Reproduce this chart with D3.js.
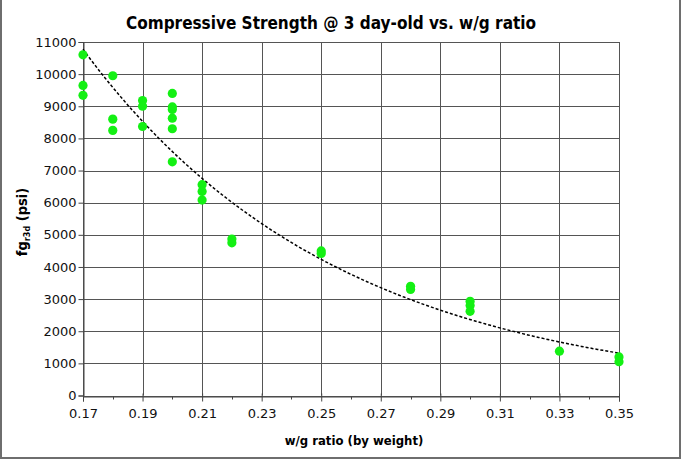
<!DOCTYPE html>
<html>
<head>
<meta charset="utf-8">
<script src="https://cdn.jsdelivr.net/npm/d3@7"></script>
<style>
  body { margin: 0; background: #fff; }
  svg { display: block; }
  text { font-family: "DejaVu Sans", sans-serif; }
</style>
</head>
<body>
<svg id="chart" width="682" height="460"></svg>
<script>
// ---- data ----
const ratio = [0.17,0.17,0.17, 0.18,0.18,0.18, 0.19,0.19,0.19, 0.20,0.20,0.20,0.20,0.20,0.20,
               0.21,0.21,0.21, 0.22,0.22, 0.25,0.25, 0.28,0.28, 0.30,0.30,0.30, 0.33, 0.35,0.35];
const strength = [10600,9650,9340, 9950,8600,8250, 9180,9000,8370, 9400,8980,8900,8630,8300,7270,
                  6560,6350,6080, 4870,4750, 4500,4420, 3400,3300, 2930,2800,2620, 1380, 1200,1050];
const xTicks = [0.17,0.19,0.21,0.23,0.25,0.27,0.29,0.31,0.33,0.35];
const xMinor = [0.18,0.20,0.22,0.24,0.26,0.28,0.30,0.32,0.34];
const yTicks = [0,1000,2000,3000,4000,5000,6000,7000,8000,9000,10000,11000];
const titleText = "Compressive Strength @ 3 day-old vs. w/g ratio";
const xTitle = "w/g ratio (by weight)";

// ---- layout ----
const svg = d3.select("#chart");
const L = 83, R = 619, T = 42, B = 395.5;
const x = d3.scaleLinear().domain([0.17, 0.35]).range([L, R]);
const y = d3.scaleLinear().domain([0, 11000]).range([B, T]);

// outer frame
svg.append("rect").attr("x", 1).attr("y", -2).attr("width", 679).attr("height", 460)
  .attr("fill", "none").attr("stroke", "#6e6e6e").attr("stroke-width", 2);

// gridlines
const grid = svg.append("g").attr("stroke", "#555").attr("stroke-width", 1);
yTicks.forEach(v => grid.append("line").attr("x1", L).attr("x2", R)
  .attr("y1", Math.round(y(v)) + 0.5).attr("y2", Math.round(y(v)) + 0.5));
xTicks.forEach(v => grid.append("line").attr("y1", T).attr("y2", B)
  .attr("x1", Math.round(x(v)) + 0.5).attr("x2", Math.round(x(v)) + 0.5));

// axes
const xAxis = d3.axisBottom(x).tickValues(xTicks).tickSize(5).tickFormat(d3.format(".2f"));
const gx = svg.append("g").attr("transform", `translate(0,${Math.round(B)+0.5})`).call(xAxis);
gx.select(".domain").attr("stroke", "#444");
gx.selectAll(".tick line").attr("stroke", "#444").attr("y1", -3);
gx.selectAll(".tick text").attr("font-size", 13).attr("dy", "1.0em").attr("fill", "#111");
gx.selectAll(".minor").data(xMinor).enter().append("line")
  .attr("x1", d => Math.round(x(d)) + 0.5).attr("x2", d => Math.round(x(d)) + 0.5)
  .attr("y1", 0).attr("y2", 3).attr("stroke", "#444");

const yAxis = d3.axisLeft(y).tickValues(yTicks).tickSize(5).tickFormat(d3.format("d"));
const gy = svg.append("g").attr("transform", `translate(${Math.round(L)+0.5},0)`).call(yAxis);
gy.select(".domain").attr("stroke", "#444");
gy.selectAll(".tick line").attr("stroke", "#444");
gy.selectAll(".tick text").attr("font-size", 13).attr("x", -7).attr("fill", "#111");

// exponential trendline fitted from the data (least squares on ln y)
const lx = ratio, ly = strength.map(Math.log);
const mx = d3.mean(lx), my = d3.mean(ly);
const b = d3.sum(lx.map((v, i) => (v - mx) * (ly[i] - my))) / d3.sum(lx.map(v => (v - mx) ** 2));
const a = Math.exp(my - b * mx);
const trend = d3.range(0, 101).map(i => { const xv = 0.17 + i * 0.0018; return [xv, a * Math.exp(b * xv)]; });
svg.append("path").datum(trend)
  .attr("d", d3.line().x(d => x(d[0])).y(d => y(d[1])))
  .attr("fill", "none").attr("stroke", "#000").attr("stroke-width", 1.5)
  .attr("stroke-dasharray", "3,2");

// points
svg.append("g").selectAll("circle").data(ratio).enter().append("circle")
  .attr("cx", (d) => x(d)).attr("cy", (d, i) => y(strength[i]))
  .attr("r", 4.6).attr("fill", "#14f014");

// titles
svg.append("text").attr("x", 331).attr("y", 29).attr("text-anchor", "middle")
  .attr("font-size", 17).attr("font-weight", "bold")
  .style("font-family", "'DejaVu Sans Condensed', 'DejaVu Sans', sans-serif")
  .text(titleText);
svg.append("text").attr("x", 354).attr("y", 445).attr("text-anchor", "middle")
  .attr("font-size", 13).attr("font-weight", "bold")
  .style("font-family", "'DejaVu Sans Condensed', 'DejaVu Sans', sans-serif")
  .text(xTitle);
const yt = svg.append("text").attr("transform", "translate(27,222) rotate(-90)")
  .attr("text-anchor", "middle").attr("font-size", 14.5).attr("font-weight", "bold")
  .style("font-family", "'DejaVu Sans Condensed', 'DejaVu Sans', sans-serif");
yt.append("tspan").text("fg");
yt.append("tspan").attr("font-size", 9).attr("dy", 3).text("r3d");
yt.append("tspan").attr("dy", -3).text(" (psi)");
</script>
</body>
</html>
